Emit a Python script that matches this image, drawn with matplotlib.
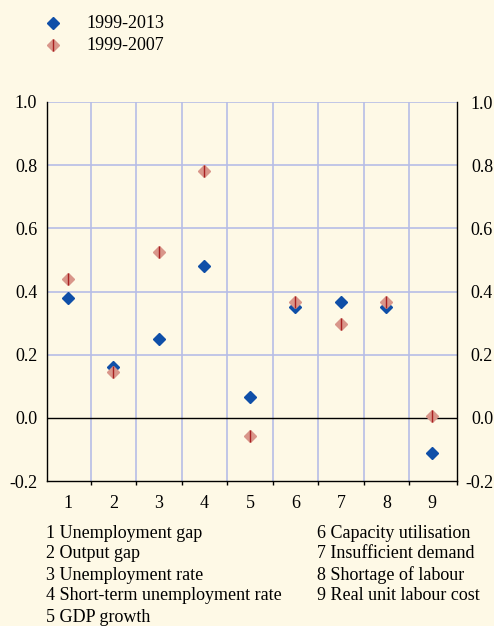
import matplotlib
matplotlib.use("Agg")
import matplotlib.pyplot as plt
from matplotlib.lines import Line2D

categories = [1, 2, 3, 4, 5, 6, 7, 8, 9]
series_2013 = [0.38, 0.16, 0.25, 0.48, 0.065, 0.35, 0.366, 0.35, -0.11]
series_2007 = [0.44, 0.146, 0.525, 0.78, -0.058, 0.368, 0.298, 0.368, 0.005]
legend_labels = ["1999-2013", "1999-2007"]
yticks = [-0.2, 0.0, 0.2, 0.4, 0.6, 0.8, 1.0]
notes_left = ["1 Unemployment gap", "2 Output gap", "3 Unemployment rate",
              "4 Short-term unemployment rate", "5 GDP growth"]
notes_right = ["6 Capacity utilisation", "7 Insufficient demand",
               "8 Shortage of labour", "9 Real unit labour cost"]

BG = "#fef9e6"
BLUE = "#0f4fa8"
SALMON = "#d9968a"
DARKRED = "#a82020"
GRID = "#b6bde6"
FS = 13

plt.rcParams['font.family'] = ['Liberation Serif', 'DejaVu Serif']

W, H = 494, 626
fig = plt.figure(figsize=(W / 100, H / 100), dpi=100, facecolor=BG)
ax = fig.add_axes([47 / W, 1 - 481 / H, (457 - 47) / W, (481 - 102) / H])
ax.set_facecolor(BG)

ax.set_xlim(0.54, 9.55)
ax.set_ylim(-0.2, 1.0)

# grid
for b in range(1, 9):
    ax.axvline(b + 0.5, color=GRID, lw=1.2, zorder=1)
for yv in [0.2, 0.4, 0.6, 0.8, 1.0]:
    ax.axhline(yv, color=GRID, lw=1.2, zorder=1)
ax.axhline(0.0, color="black", lw=1.0, zorder=2)

ax.spines['top'].set_visible(False)
for s in ['left', 'right', 'bottom']:
    ax.spines[s].set_color('black')
    ax.spines[s].set_linewidth(1.0)

ax.set_xticks([c + 0.5 for c in categories[:-1]] + [9.55])
ax.set_xticklabels([])
ax.set_xticks(categories, minor=True)
ax.set_xticklabels([str(c) for c in categories], minor=True, fontsize=FS)
ax.tick_params(axis='x', which='major', direction='out', length=3, width=1.0)
ax.tick_params(axis='x', which='minor', length=0, pad=10)

ax.set_yticks(yticks)
ax.set_yticklabels([f"{v:.1f}" for v in yticks], fontsize=FS)
ax.tick_params(axis='y', length=0, pad=7)

ax2 = ax.twinx()
ax2.set_ylim(ax.get_ylim())
ax2.set_yticks(yticks)
ax2.set_yticklabels([f"{v:.1f}" for v in yticks], fontsize=FS, ha='right')
ax2.tick_params(axis='y', length=0, pad=26)
for s in ax2.spines.values():
    s.set_visible(False)

# points
ax.plot(categories, series_2013, linestyle='none', marker='D', ms=6.4,
        color=BLUE, mec=BLUE, zorder=4)
ax.plot(categories, series_2007, linestyle='none', marker='D', ms=6.6,
        color=SALMON, mec=SALMON, zorder=5)
ax.plot(categories, series_2007, linestyle='none', marker='|', ms=8,
        mew=1.0, color=DARKRED, zorder=6)

# legend
lx = 53 / W
for i, (lab, y) in enumerate(zip(legend_labels, [23, 45])):
    yf = 1 - y / H
    if i == 0:
        fig.add_artist(Line2D([lx], [yf], transform=fig.transFigure, marker='D',
                              ms=6.4, color=BLUE, linestyle='none'))
    else:
        fig.add_artist(Line2D([lx], [yf], transform=fig.transFigure, marker='D',
                              ms=6.6, color=SALMON, linestyle='none'))
        fig.add_artist(Line2D([lx], [yf], transform=fig.transFigure, marker='|',
                              ms=8, mew=1.0, color=DARKRED, linestyle='none'))
    fig.text(86 / W, yf, lab, fontsize=FS, va='center', ha='left')

# notes
ys = [533, 554, 575, 596, 617]
for t, y in zip(notes_left, ys):
    fig.text(46 / W, 1 - y / H, t, fontsize=FS, va='center', ha='left')
for t, y in zip(notes_right, ys):
    fig.text(317 / W, 1 - y / H, t, fontsize=FS, va='center', ha='left')

fig.savefig("out.png", dpi=100, facecolor=BG)
